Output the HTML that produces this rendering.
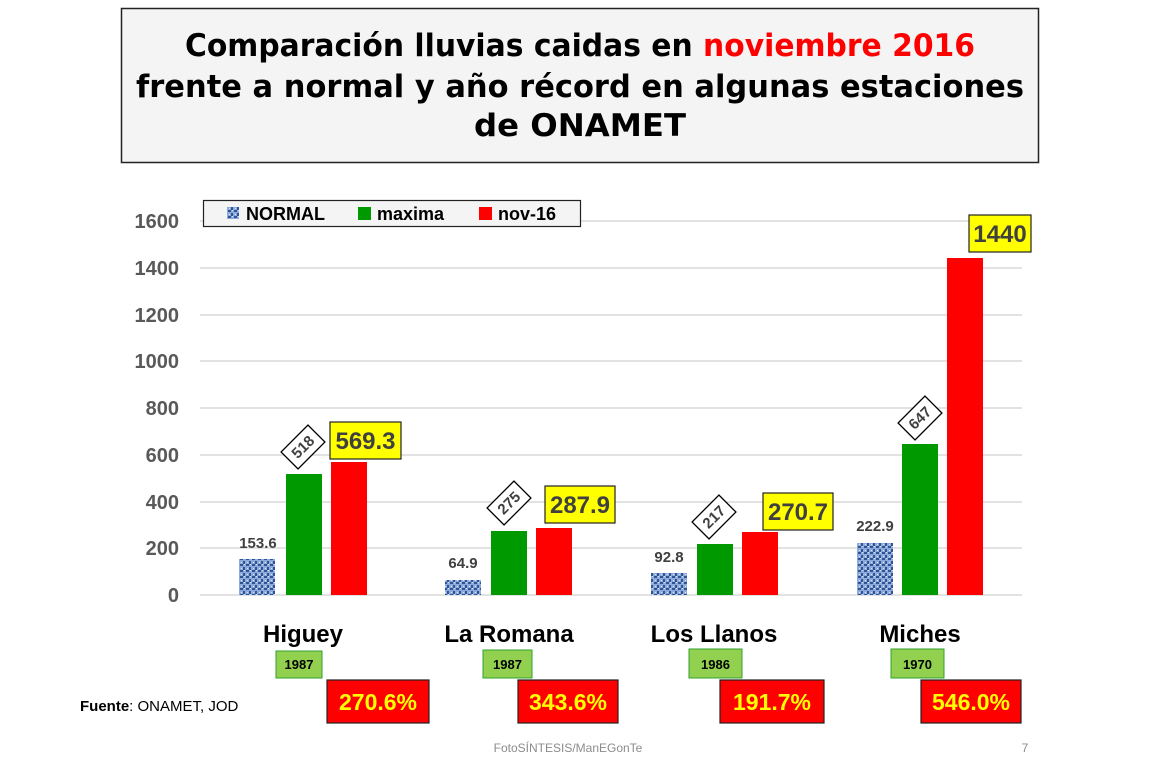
<!DOCTYPE html>
<html><head><meta charset="utf-8"><style>
html,body{margin:0;padding:0;background:#fff;}
svg{display:block;}
</style></head><body>
<svg width="1160" height="772" viewBox="0 0 1160 772" xmlns="http://www.w3.org/2000/svg" font-family="'Liberation Sans',sans-serif">
<defs>
<pattern id="pn" width="6" height="6" patternUnits="userSpaceOnUse">
<rect width="6" height="6" fill="#8eaadb"/>
<rect x="0" y="0" width="3" height="2" fill="#2f5597"/>
<rect x="3" y="3" width="2" height="3" fill="#2f5597"/>
<rect x="4" y="0" width="1" height="1" fill="#dce6f5"/>
<rect x="1" y="4" width="1" height="1" fill="#dce6f5"/>
</pattern>
</defs>
<rect x="121.5" y="8.5" width="917" height="154" fill="#f4f4f4" stroke="#222" stroke-width="1.5"/>
<g font-family="'DejaVu Sans',sans-serif" font-weight="bold" font-size="31" text-anchor="middle" fill="#000">
<text x="580" y="56" textLength="790" lengthAdjust="spacingAndGlyphs">Comparación lluvias caidas en <tspan fill="#ff0000">noviembre 2016</tspan></text>
<text x="580" y="97" textLength="888" lengthAdjust="spacingAndGlyphs">frente a normal y año récord en algunas estaciones</text>
<text x="580" y="136" textLength="212" lengthAdjust="spacingAndGlyphs">de ONAMET</text>
</g>
<g stroke="#d9d9d9" stroke-width="1.5">
<line x1="200" y1="221" x2="1022" y2="221"/>
<line x1="200" y1="268" x2="1022" y2="268"/>
<line x1="200" y1="315" x2="1022" y2="315"/>
<line x1="200" y1="361" x2="1022" y2="361"/>
<line x1="200" y1="408" x2="1022" y2="408"/>
<line x1="200" y1="455" x2="1022" y2="455"/>
<line x1="200" y1="502" x2="1022" y2="502"/>
<line x1="200" y1="548" x2="1022" y2="548"/>
<line x1="200" y1="595" x2="1022" y2="595"/>
</g>
<g font-weight="bold" font-size="20" fill="#595959" text-anchor="end">
<text x="179" y="228">1600</text><text x="179" y="275">1400</text><text x="179" y="322">1200</text>
<text x="179" y="368">1000</text><text x="179" y="415">800</text><text x="179" y="462">600</text>
<text x="179" y="509">400</text><text x="179" y="555">200</text><text x="179" y="602">0</text>
</g>
<rect x="203.5" y="200.5" width="377" height="26" fill="#f4f4f4" stroke="#222" stroke-width="1.2"/>
<rect x="227" y="207" width="12" height="12" fill="url(#pn)"/>
<text x="246" y="220" font-weight="bold" font-size="18">NORMAL</text>
<rect x="358" y="207" width="13" height="13" fill="#009900"/>
<text x="377" y="220" font-weight="bold" font-size="18">maxima</text>
<rect x="479" y="207" width="13" height="13" fill="#ff0000"/>
<text x="498" y="220" font-weight="bold" font-size="18">nov-16</text>
<g>
<rect x="239" y="559" width="36" height="36" fill="url(#pn)"/>
<rect x="286" y="474" width="36" height="121" fill="#009900"/>
<rect x="331" y="462" width="36" height="133" fill="#ff0000"/>
<rect x="445" y="580" width="36" height="15" fill="url(#pn)"/>
<rect x="491" y="531" width="36" height="64" fill="#009900"/>
<rect x="536" y="528" width="36" height="67" fill="#ff0000"/>
<rect x="651" y="573" width="36" height="22" fill="url(#pn)"/>
<rect x="697" y="544" width="36" height="51" fill="#009900"/>
<rect x="742" y="532" width="36" height="63" fill="#ff0000"/>
<rect x="857" y="543" width="36" height="52" fill="url(#pn)"/>
<rect x="902" y="444" width="36" height="151" fill="#009900"/>
<rect x="947" y="258" width="36" height="337" fill="#ff0000"/>
</g>
<g font-weight="bold" font-size="15" fill="#404040" text-anchor="middle">
<text x="258" y="548">153.6</text><text x="463" y="568">64.9</text>
<text x="669" y="562">92.8</text><text x="875" y="531">222.9</text>
</g>
<g font-weight="bold" font-size="15" fill="#404040" text-anchor="middle">
<g transform="translate(303,447) rotate(-45)"><rect x="-19" y="-12" width="38" height="24" fill="#fff" stroke="#000" stroke-width="1.3"/><text x="0" y="5">518</text></g>
<g transform="translate(509,503) rotate(-45)"><rect x="-19" y="-12" width="38" height="24" fill="#fff" stroke="#000" stroke-width="1.3"/><text x="0" y="5">275</text></g>
<g transform="translate(714,517) rotate(-45)"><rect x="-19" y="-12" width="38" height="24" fill="#fff" stroke="#000" stroke-width="1.3"/><text x="0" y="5">217</text></g>
<g transform="translate(920,418) rotate(-45)"><rect x="-19" y="-12" width="38" height="24" fill="#fff" stroke="#000" stroke-width="1.3"/><text x="0" y="5">647</text></g>
</g>
<g font-weight="bold" font-size="24" fill="#404040" text-anchor="middle" stroke-width="1.2">
<rect x="330" y="422" width="71" height="37" fill="#ffff00" stroke="#222"/><text x="365.5" y="449">569.3</text>
<rect x="545" y="486" width="70" height="37" fill="#ffff00" stroke="#222"/><text x="580" y="513">287.9</text>
<rect x="763" y="493" width="70" height="37" fill="#ffff00" stroke="#222"/><text x="798" y="520">270.7</text>
<rect x="969" y="215" width="62" height="37" fill="#ffff00" stroke="#222"/><text x="1000" y="242">1440</text>
</g>
<g font-weight="bold" font-size="24" fill="#000" text-anchor="middle">
<text x="303" y="642">Higuey</text><text x="509" y="642">La Romana</text>
<text x="714" y="642">Los Llanos</text><text x="920" y="642">Miches</text>
</g>
<g font-weight="bold" font-size="13" text-anchor="middle">
<rect x="276" y="651" width="46" height="27" fill="#92d050" stroke="#33a02c"/><text x="299" y="669">1987</text>
<rect x="483" y="650" width="49" height="28" fill="#92d050" stroke="#33a02c"/><text x="507.5" y="669">1987</text>
<rect x="689" y="649" width="53" height="29" fill="#92d050" stroke="#33a02c"/><text x="715.5" y="669">1986</text>
<rect x="891" y="649" width="53" height="29" fill="#92d050" stroke="#33a02c"/><text x="917.5" y="669">1970</text>
</g>
<g font-weight="bold" font-size="23" fill="#ffff00" text-anchor="middle">
<rect x="327" y="680" width="102" height="43" fill="#ff0000" stroke="#222" stroke-width="1.2"/><text x="378" y="710">270.6%</text>
<rect x="518" y="680" width="100" height="43" fill="#ff0000" stroke="#222" stroke-width="1.2"/><text x="568" y="710">343.6%</text>
<rect x="720" y="680" width="104" height="43" fill="#ff0000" stroke="#222" stroke-width="1.2"/><text x="772" y="710">191.7%</text>
<rect x="921" y="680" width="100" height="43" fill="#ff0000" stroke="#222" stroke-width="1.2"/><text x="971" y="710">546.0%</text>
</g>
<text x="80" y="711" font-size="15" fill="#000"><tspan font-weight="bold">Fuente</tspan>: ONAMET, JOD</text>
<text x="568" y="752" font-size="12" fill="#8c8c8c" text-anchor="middle">FotoSÍNTESIS/ManEGonTe</text>
<text x="1025" y="752" font-size="12" fill="#8c8c8c" text-anchor="middle">7</text>
</svg>
</body></html>
